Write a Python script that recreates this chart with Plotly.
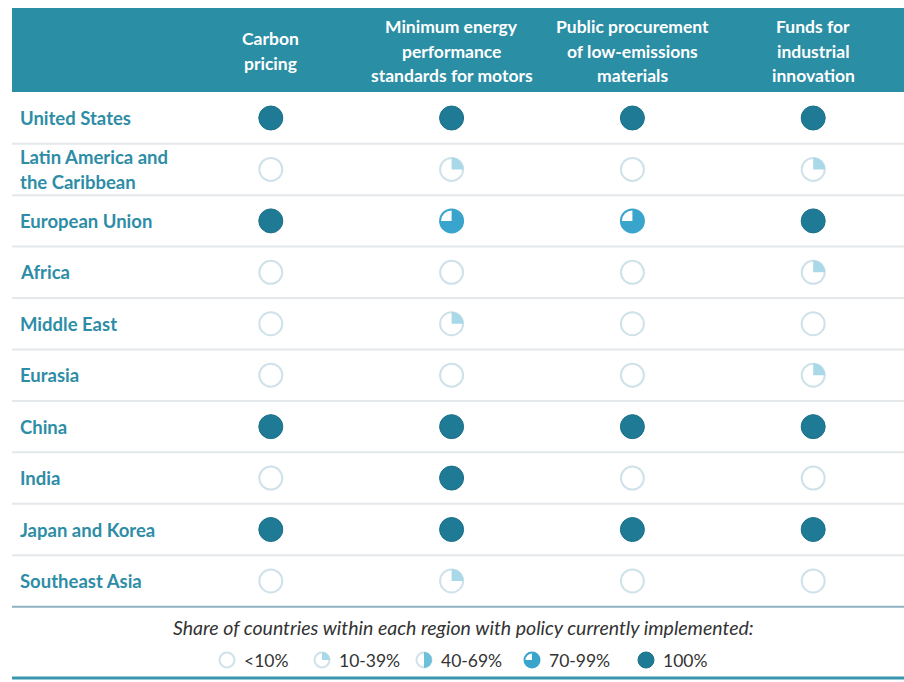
import numpy as np
import plotly.graph_objects as go

# Regions (rows) and policies (columns)
regions = [
    "United States",
    "Latin America and<br>the Caribbean",
    "European Union",
    "Africa",
    "Middle East",
    "Eurasia",
    "China",
    "India",
    "Japan and Korea",
    "Southeast Asia",
]
policies = [
    "Carbon<br>pricing",
    "Minimum energy<br>performance<br>standards for motors",
    "Public procurement<br>of low-emissions<br>materials",
    "Funds for<br>industrial<br>innovation",
]

# Implementation level per region: 0 <10%, 1 10-39%, 2 40-69%, 3 70-99%, 4 100%
carbon_pricing = [4, 0, 4, 0, 0, 0, 4, 0, 4, 0]
motor_standards = [4, 1, 3, 0, 1, 0, 4, 4, 4, 1]
low_emission_procurement = [4, 0, 3, 0, 0, 0, 4, 0, 4, 0]
innovation_funds = [4, 1, 4, 1, 0, 1, 4, 0, 4, 0]

legend_labels = ["<10%", "10-39%", "40-69%", "70-99%", "100%"]
legend_levels = [0, 1, 2, 3, 4]
legend_title = "Share of countries within each region with policy currently implemented:"

levels = [carbon_pricing, motor_standards, low_emission_procurement, innovation_funds]

# ---- layout geometry (pixels) ----
W, H = 904, 682
COL0, COL_STEP = 270.8, 180.8  # pixel x of first column, column spacing
ROW0, ROW_STEP = 118, 51.44    # pixel y of first row, row spacing


def px_to_x(p):
    return (p - COL0) / COL_STEP


def py_to_y(p):
    return (p - ROW0) / ROW_STEP


# ---- colours ----
TEAL_HEADER = "#2a8ea4"
LABEL_TEAL = "#2e8da6"
DARK = "#1f7b95"
RING = "#cfe2e9"
LIGHT_WEDGE = "#a9d9e8"
MID_WEDGE = "#6cc0da"
BLUE = "#3aa5cc"
SEP = "#e4e8ea"
FONT = "Lato, sans-serif"

fill_fraction = {1: 0.25, 2: 0.5, 3: 0.75}
wedge_color = {1: LIGHT_WEDGE, 2: MID_WEDGE, 3: BLUE}
ring_color = {0: RING, 1: RING, 2: RING, 3: BLUE}


def wedge(cx, cy, frac, r_px):
    """Pie wedge starting at 12 o'clock, running clockwise, in data units."""
    th = np.linspace(0, 2 * np.pi * frac, 40)
    xs = [cx] + list(cx + r_px * np.sin(th) / COL_STEP) + [cx]
    ys = [cy] + list(cy - r_px * np.cos(th) / ROW_STEP) + [cy]
    return xs, ys


def add_icons(fig, pts, size):
    """pts: list of (x, y, level). Draws pie-style status icons."""
    r_ring = size / 2
    # open / partial icons: white disc with ring
    for lvl in (0, 1, 2, 3):
        sel = [(x, y) for x, y, l in pts if l == lvl]
        if not sel:
            continue
        fig.add_trace(go.Scatter(
            x=[p[0] for p in sel], y=[p[1] for p in sel], mode="markers",
            marker=dict(symbol="circle", size=size - 2, color="white",
                        line=dict(color=ring_color[lvl], width=2)),
            hoverinfo="skip", showlegend=False))
    # filled wedges
    for lvl in (1, 2, 3):
        xs, ys = [], []
        for x, y, l in pts:
            if l == lvl:
                wx, wy = wedge(x, y, fill_fraction[lvl], r_ring - 0.5)
                xs += wx + [None]
                ys += wy + [None]
        if xs:
            fig.add_trace(go.Scatter(
                x=xs, y=ys, mode="lines", fill="toself",
                fillcolor=wedge_color[lvl], line=dict(width=0, color=wedge_color[lvl]),
                hoverinfo="skip", showlegend=False))
    # full discs
    sel = [(x, y) for x, y, l in pts if l == 4]
    if sel:
        fig.add_trace(go.Scatter(
            x=[p[0] for p in sel], y=[p[1] for p in sel], mode="markers",
            marker=dict(symbol="circle", size=size - 1, color=DARK,
                        line=dict(color="#1a6f88", width=1)),
            hoverinfo="skip", showlegend=False))


fig = go.Figure()

# grid icons
cells = [(ci, ri, lv) for ci, col in enumerate(levels) for ri, lv in enumerate(col)]
add_icons(fig, cells, 25)

# legend icons
legend_icon_px = [227, 322, 424, 532, 646]
legend_pts = [(px_to_x(px), py_to_y(660), lv) for px, lv in zip(legend_icon_px, legend_levels)]
add_icons(fig, legend_pts, 17)

shapes = []
# header band
shapes.append(dict(type="rect", xref="paper", yref="paper",
                   x0=12 / W, x1=1, y0=1 - 92 / H, y1=1 - 8 / H,
                   fillcolor=TEAL_HEADER, line=dict(width=0), layer="below"))
# row separators
for i in range(len(regions) - 1):
    shapes.append(dict(type="line", xref="paper", yref="y",
                       x0=12 / W, x1=1, y0=i + 0.5, y1=i + 0.5,
                       line=dict(color=SEP, width=2), layer="below"))
shapes.append(dict(type="line", xref="paper", yref="y",
                   x0=12 / W, x1=1, y0=len(regions) - 0.5, y1=len(regions) - 0.5,
                   line=dict(color="#8fb2c0", width=2), layer="below"))
shapes.append(dict(type="line", xref="paper", yref="paper",
                   x0=12 / W, x1=1, y0=1 - 678 / H, y1=1 - 678 / H,
                   line=dict(color="#3897ad", width=3), layer="below"))

annotations = []
LINE_H = 24.5
# column headers (one annotation per line for wider leading)
for ci, head in enumerate(policies):
    lines = head.split("<br>")
    mid = 51
    for k, line in enumerate(lines):
        yp = mid + (k - (len(lines) - 1) / 2) * LINE_H
        annotations.append(dict(
            x=ci, xref="x", y=1 - yp / H, yref="paper", text=line,
            showarrow=False, xanchor="center", yanchor="middle",
            font=dict(family=FONT, size=17.5, color="white", weight="bold")))

# row labels
for ri, name in enumerate(regions):
    lines = name.split("<br>")
    for k, line in enumerate(lines):
        yv = ri + (k - (len(lines) - 1) / 2) * (LINE_H / ROW_STEP)
        annotations.append(dict(
            x=18 / W, xref="paper", y=yv, yref="y", text=line,
            showarrow=False, xanchor="left", yanchor="middle",
            font=dict(family=FONT, size=18.5, color=LABEL_TEAL, weight="bold")))

# legend title and labels
annotations.append(dict(
    x=463 / W, xref="paper", y=1 - 627 / H, yref="paper", text=f"<i>{legend_title}</i>",
    showarrow=False, xanchor="center", yanchor="middle",
    font=dict(family=FONT, size=19.5, color="#333333")))
for px, lab in zip(legend_icon_px, legend_labels):
    annotations.append(dict(
        x=(px + 15) / W, xref="paper", y=1 - 660 / H, yref="paper", text=lab,
        showarrow=False, xanchor="left", yanchor="middle",
        font=dict(family=FONT, size=17.5, color="#333333")))

fig.update_layout(
    width=W, height=H, autosize=False,
    margin=dict(l=0, r=0, t=0, b=0),
    paper_bgcolor="white", plot_bgcolor="white",
    xaxis=dict(range=[px_to_x(0), px_to_x(W)], visible=False, fixedrange=True),
    yaxis=dict(range=[py_to_y(H), py_to_y(0)], visible=False, fixedrange=True),
    shapes=shapes, annotations=annotations, showlegend=False,
)

fig.write_html("out.html")
